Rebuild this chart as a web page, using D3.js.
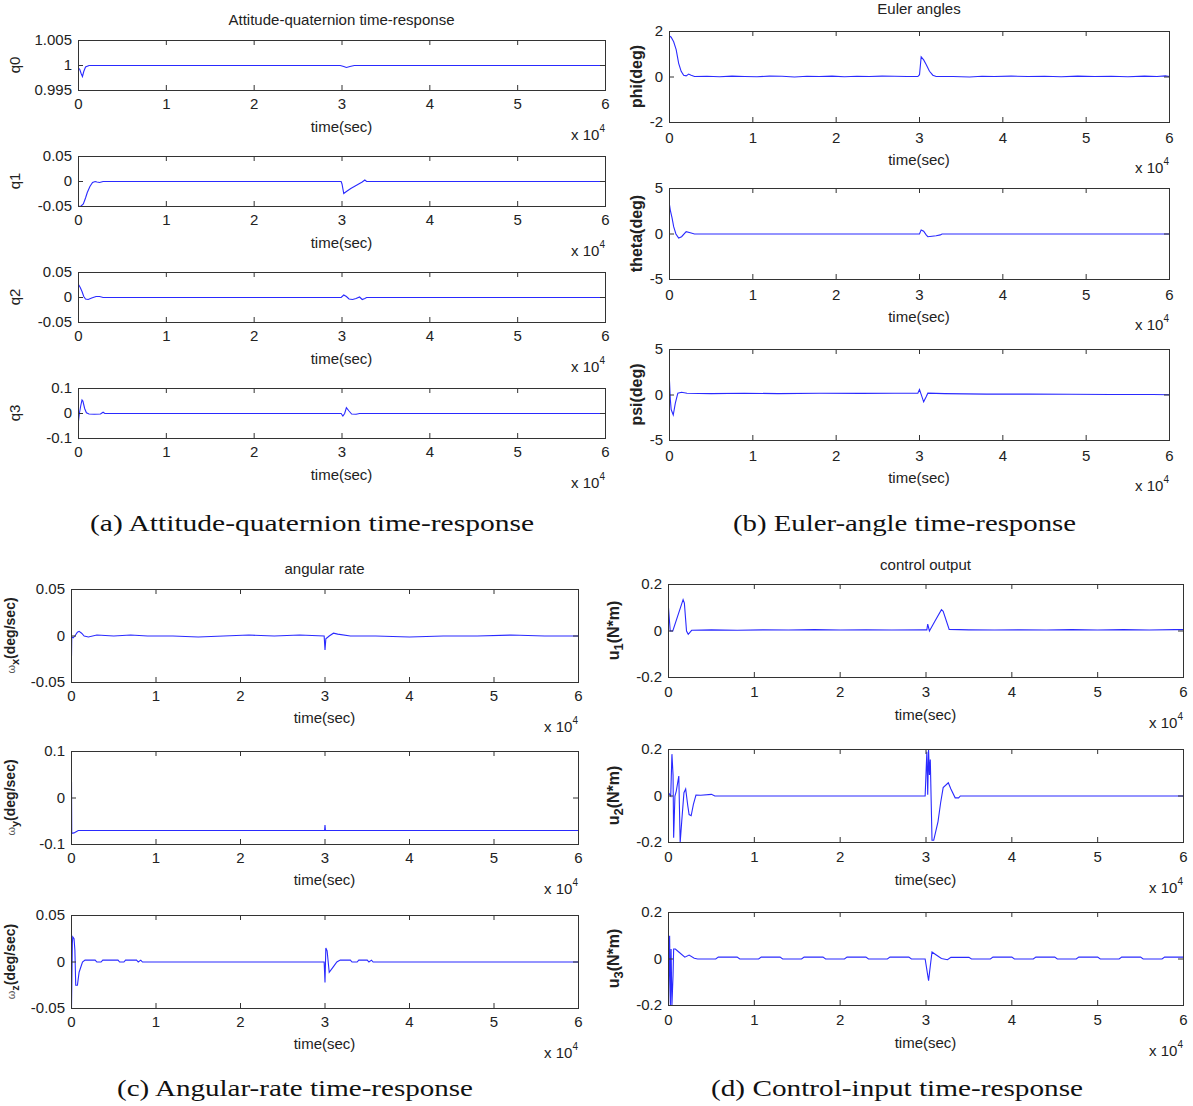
<!DOCTYPE html>
<html>
<head>
<meta charset="utf-8">
<script src="https://cdn.jsdelivr.net/npm/d3@7"></script>
<style>
  body { margin: 0; background: #fff; }
  svg { display: block; }
  text { font-family: "Liberation Sans", Arial, sans-serif; fill: #222; }
  .tick text { font-size: 15px; }
  .tick line { stroke: #333; }
  .caption { font-family: "Liberation Serif", "DejaVu Serif", serif; font-size: 24px; fill: #111; }
</style>
</head>
<body>
<main></main>
<script>
// time axis in units of 10^4 s
const xTicks = [0, 1, 2, 3, 4, 5, 6];

// (a) attitude quaternion
const q0 = [[0,0.9995],[0.015,0.9992],[0.03,0.9984],[0.045,0.9978],[0.06,0.9988],[0.08,0.9997],[0.12,1.0],[2.98,1.0],[3.02,0.9998],[3.05,0.9996],[3.09,0.9998],[3.14,1.0],[6,1.0]];
const q1 = [[0,-0.05],[0.03,-0.049],[0.055,-0.045],[0.08,-0.033],[0.1,-0.022],[0.13,-0.01],[0.16,-0.002],[0.19,0],[0.21,-0.001],[0.24,-0.002],[0.26,-0.001],[0.28,0],[2.99,0],[3.0,-0.005],[3.02,-0.024],[3.05,-0.02],[3.1,-0.014],[3.15,-0.009],[3.2,-0.004],[3.23,-0.001],[3.26,0.003],[3.28,0],[6,0]];
const q2 = [[0,0.026],[0.02,0.02],[0.04,0.012],[0.06,0.002],[0.08,-0.003],[0.11,-0.004],[0.15,-0.001],[0.2,0.002],[0.24,0.002],[0.28,0],[2.99,0],[3.02,0.005],[3.05,0.002],[3.08,-0.003],[3.12,-0.004],[3.16,-0.002],[3.2,0.001],[3.23,-0.004],[3.26,-0.002],[3.28,0],[6,0]];
const q3 = [[0,-0.03],[0.01,0.0],[0.025,0.03],[0.04,0.054],[0.05,0.05],[0.07,0.02],[0.09,0.003],[0.12,-0.002],[0.18,-0.003],[0.25,-0.002],[0.28,0.005],[0.3,0],[2.99,0],[3.01,-0.01],[3.03,0.0],[3.05,0.023],[3.08,0.01],[3.11,-0.002],[3.16,-0.003],[3.2,0],[6,0]];

// (b) Euler angles, deg
const phi = [[0,1.8],[0.02,1.75],[0.05,1.55],[0.08,1.2],[0.11,0.6],[0.14,0.25],[0.17,0.08],[0.2,0.05],[0.23,0.13],[0.26,0.08],[0.3,0.02],[0.45,0.03],[0.6,0.01],[0.75,0.04],[0.9,0.02],[1.05,0.01],[1.2,0.04],[1.35,0.03],[1.5,0.0],[1.65,0.03],[1.8,0.02],[1.95,0.04],[2.1,0.01],[2.25,0.03],[2.4,0.02],[2.55,0.04],[2.7,0.03],[2.85,0.02],[2.98,0.02],[3.0,0.1],[3.02,0.88],[3.05,0.75],[3.08,0.55],[3.12,0.25],[3.16,0.08],[3.2,0.02],[3.4,0.02],[3.6,0.0],[3.75,0.03],[3.9,0.02],[4.1,0.04],[4.3,0.02],[4.5,0.03],[4.7,0.01],[4.9,0.04],[5.1,0.02],[5.3,0.03],[5.5,0.01],[5.7,0.04],[5.85,0.02],[5.95,0.05],[6,0.02]];
const theta = [[0,3.2],[0.01,2.6],[0.03,1.8],[0.05,0.8],[0.077,0],[0.11,-0.45],[0.145,-0.3],[0.2,0.25],[0.26,0.1],[0.3,0],[3.0,0],[3.02,0.45],[3.05,0.3],[3.08,-0.1],[3.1,-0.3],[3.15,-0.25],[3.2,-0.2],[3.25,-0.1],[3.27,0],[6,0]];
const psi = [[0,1.5],[0.01,-0.5],[0.02,-1.6],[0.045,-2.2],[0.07,-0.9],[0.1,0.2],[0.145,0.3],[0.21,0.2],[0.5,0.15],[0.9,0.2],[1.3,0.15],[1.8,0.2],[2.3,0.18],[2.7,0.2],[2.98,0.2],[3.0,0.6],[3.03,-0.2],[3.05,-0.75],[3.08,-0.2],[3.1,0.2],[3.3,0.15],[3.8,0.1],[4.3,0.1],[4.8,0.08],[5.3,0.05],[5.8,0.05],[6,0.03]];

// (c) angular rate, deg/sec
const wx = [[0,-0.022],[0.003,-0.001],[0.02,-0.002],[0.04,0.0],[0.07,0.004],[0.09,0.005],[0.12,0.003],[0.15,0.0],[0.2,-0.001],[0.3,0.001],[0.5,0.0],[0.7,0.001],[0.9,0.0],[1.2,0.0],[1.5,-0.001],[1.8,0.0],[2.1,0.001],[2.4,0.0],[2.7,0.001],[2.99,0.0],[3.0,-0.015],[3.01,-0.003],[3.05,0.0],[3.1,0.003],[3.15,0.002],[3.3,0.0],[3.6,0.0],[4.0,-0.001],[4.4,0.0],[4.8,0.0],[5.2,0.001],[5.6,0.0],[6,0.0]];
const wy = [[0,0.035],[0.003,-0.076],[0.03,-0.075],[0.06,-0.072],[0.08,-0.07],[2.995,-0.07],[3.0,-0.058],[3.005,-0.07],[6,-0.07]];
const wz = [[0,-0.05],[0.01,0.02],[0.015,0.027],[0.03,0.025],[0.04,0.013],[0.05,-0.025],[0.07,-0.025],[0.09,-0.011],[0.13,0.0],[0.16,0.002],[0.28,0.002],[0.3,0.0],[0.35,0.0],[0.37,0.002],[0.55,0.002],[0.57,0.0],[0.62,0.0],[0.64,0.002],[0.77,0.002],[0.79,0.0],[0.82,0.002],[0.84,0.0],[2.99,0.0],[3.0,-0.022],[3.01,0.015],[3.025,0.012],[3.05,-0.011],[3.1,-0.005],[3.14,0.0],[3.18,0.002],[3.3,0.002],[3.32,0.0],[3.38,0.0],[3.4,0.002],[3.5,0.002],[3.52,0.0],[3.55,0.002],[3.57,0.0],[6,0.0]];

// (d) control output, N*m
const u1 = [[0,0.1],[0.02,0.0],[0.05,0.0],[0.17,0.135],[0.185,0.12],[0.21,0.0],[0.23,-0.014],[0.27,0.003],[0.5,0.005],[0.8,0.003],[1.1,0.005],[1.4,0.004],[1.7,0.006],[2.0,0.004],[2.3,0.005],[2.6,0.004],[2.99,0.005],[3.01,0.005],[3.02,0.03],[3.04,0.0],[3.1,0.04],[3.18,0.092],[3.2,0.085],[3.27,0.007],[3.5,0.005],[3.8,0.004],[4.1,0.005],[4.4,0.004],[4.7,0.006],[5.0,0.004],[5.3,0.006],[5.6,0.004],[5.9,0.006],[6,0.006]];
const u2 = [[0,0.014],[0.013,0.007],[0.026,0],[0.04,0.18],[0.053,0.09],[0.06,-0.18],[0.075,0],[0.09,0.02],[0.12,0.086],[0.136,-0.2],[0.154,-0.11],[0.18,0.014],[0.2,0.03],[0.225,-0.043],[0.24,-0.08],[0.264,-0.085],[0.29,-0.036],[0.32,0.004],[0.375,0.003],[0.5,0.007],[0.54,0],[2.99,0],[3.01,0.19],[3.02,0.005],[3.03,0.2],[3.04,0.09],[3.05,0.157],[3.07,-0.19],[3.09,-0.19],[3.14,-0.11],[3.17,-0.03],[3.2,0.036],[3.26,0.057],[3.29,0.03],[3.34,-0.008],[3.38,-0.008],[3.4,0],[6,0]];
const u3 = [[0,-0.19],[0.013,0.1],[0.022,-0.2],[0.03,0.043],[0.04,-0.2],[0.053,-0.07],[0.06,0.043],[0.08,0.043],[0.12,0.03],[0.19,0.008],[0.24,0.017],[0.3,0.003],[0.34,0],[0.55,0],[0.58,0.008],[0.8,0.008],[0.83,0],[1.05,0],[1.08,0.008],[1.3,0.008],[1.33,0],[1.55,0],[1.58,0.008],[1.8,0.008],[1.83,0],[2.05,0],[2.08,0.008],[2.3,0.008],[2.33,0],[2.55,0],[2.58,0.008],[2.8,0.008],[2.83,0],[2.99,0],[3.03,-0.093],[3.05,-0.03],[3.07,0.03],[3.12,0.017],[3.18,0.002],[3.25,-0.003],[3.29,0.007],[3.5,0.007],[3.53,0],[3.75,0],[3.78,0.008],[4.0,0.008],[4.03,0],[4.25,0],[4.28,0.008],[4.5,0.008],[4.53,0],[4.75,0],[4.78,0.008],[5.0,0.008],[5.03,0],[5.25,0],[5.28,0.008],[5.5,0.008],[5.53,0],[5.75,0],[5.78,0.008],[6,0.008]];

const width = 1193;
const height = 1106;

const svg = d3.select("main")
	.append("svg")
	.attr("width", width)
	.attr("height", height);

const fmt = d => String(+d.toFixed(4));

function subplot(c) {
	const x = d3.scaleLinear().domain([0, 6]).range([c.left, c.right]);
	const y = d3.scaleLinear().domain(c.yDomain).range([c.bottom, c.top]);
	const g = svg.append("g");

	g.append("clipPath").attr("id", c.id)
		.append("rect")
		.attr("x", c.left).attr("y", c.top - 1)
		.attr("width", c.right - c.left + 1).attr("height", c.bottom - c.top + 2);

	const line = d3.line().x(d => x(d[0])).y(d => y(d[1]));
	g.append("g")
		.attr("clip-path", `url(#${c.id})`)
		.append("path")
		.datum(c.data)
		.attr("d", line)
		.attr("transform", "translate(0.5,0.5)")
		.attr("fill", "none")
		.attr("stroke", "#2a2aff")
		.attr("stroke-width", 1.1);

	const bottomAxis = g.append("g")
		.attr("transform", `translate(0,${c.bottom})`)
		.call(d3.axisBottom(x).tickValues(xTicks).tickSizeInner(-5).tickSizeOuter(0).tickPadding(c.tickPad).tickFormat(d3.format("d")));
	const topAxis = g.append("g")
		.attr("transform", `translate(0,${c.top})`)
		.call(d3.axisTop(x).tickValues(xTicks).tickSizeInner(-5).tickSizeOuter(0).tickFormat(""));
	const leftAxis = g.append("g")
		.attr("transform", `translate(${c.left},0)`)
		.call(d3.axisLeft(y).tickValues(c.yTicks).tickSizeInner(-5).tickSizeOuter(0).tickPadding(6).tickFormat(fmt));
	const rightAxis = g.append("g")
		.attr("transform", `translate(${c.right},0)`)
		.call(d3.axisRight(y).tickValues(c.yTicks).tickSizeInner(-5).tickSizeOuter(0).tickFormat(""));
	[bottomAxis, topAxis, leftAxis, rightAxis].forEach(a => {
		a.select(".domain").remove();
		a.selectAll("text").attr("fill", "#222").style("font-family", "Liberation Sans, Arial, sans-serif");
	});

	g.append("rect")
		.attr("x", c.left + 0.5).attr("y", c.top + 0.5)
		.attr("width", c.right - c.left).attr("height", c.bottom - c.top)
		.attr("fill", "none")
		.attr("stroke", "#333")
		.attr("stroke-width", 1);

	g.append("text")
		.attr("x", (c.left + c.right) / 2)
		.attr("y", c.bottom + c.timeDy)
		.attr("text-anchor", "middle")
		.style("font-size", "15px")
		.text("time(sec)");

	const exp = g.append("text")
		.attr("x", c.right)
		.attr("y", c.bottom + c.expDy)
		.attr("text-anchor", "end")
		.style("font-size", "15px");
	exp.append("tspan").text("x 10");
	exp.append("tspan").attr("dy", -8).style("font-size", "10px").text("4");

	const lab = g.append("text")
		.attr("transform", `translate(${c.labelX},${(c.top + c.bottom) / 2}) rotate(-90)`)
		.attr("text-anchor", "middle");
	c.label(lab);
}

function plainLabel(s, bold) {
	return t => t.style("font-size", bold ? "16px" : "15px")
		.style("font-weight", bold ? "bold" : "normal")
		.text(s);
}
function subLabel(main, sub, rest, size, mainStyle) {
	return t => {
		t.style("font-size", size + "px").style("font-weight", "bold");
		const m = t.append("tspan").text(main);
		if (mainStyle) m.style("font-size", "11px").style("font-weight", "normal").attr("fill", "#555");
		t.append("tspan").attr("dy", 4).style("font-size", (size - 3) + "px").text(sub);
		t.append("tspan").attr("dy", -4).text(rest);
	};
}

// (a)
const aLeft = 78, aRight = 605;
[
	{ id: "cq0", data: q0, yDomain: [0.995, 1.005], yTicks: [0.995, 1, 1.005], top: 40, label: plainLabel("q0") },
	{ id: "cq1", data: q1, yDomain: [-0.05, 0.05], yTicks: [-0.05, 0, 0.05], top: 156, label: plainLabel("q1") },
	{ id: "cq2", data: q2, yDomain: [-0.05, 0.05], yTicks: [-0.05, 0, 0.05], top: 272, label: plainLabel("q2") },
	{ id: "cq3", data: q3, yDomain: [-0.1, 0.1], yTicks: [-0.1, 0, 0.1], top: 388, label: plainLabel("q3") },
].forEach(c => subplot(Object.assign(c, {
	left: aLeft, right: aRight, bottom: c.top + 50, labelX: 20,
	tickPad: 8, timeDy: 42, expDy: 50,
})));

// (b)
const bLeft = 669, bRight = 1169;
[
	{ id: "cphi", data: phi, yDomain: [-2, 2], yTicks: [-2, 0, 2], top: 31, label: plainLabel("phi(deg)", true) },
	{ id: "cth", data: theta, yDomain: [-5, 5], yTicks: [-5, 0, 5], top: 188, label: plainLabel("theta(deg)", true) },
	{ id: "cpsi", data: psi, yDomain: [-5, 5], yTicks: [-5, 0, 5], top: 349, label: plainLabel("psi(deg)", true) },
].forEach(c => subplot(Object.assign(c, {
	left: bLeft, right: bRight, bottom: c.top + 91, labelX: 642,
	tickPad: 10, timeDy: 43, expDy: 51,
})));

// (c)
const cLeft = 71, cRight = 578;
[
	{ id: "cwx", data: wx, yDomain: [-0.05, 0.05], yTicks: [-0.05, 0, 0.05], top: 589, label: subLabel("\u03c9", "x", "(deg/sec)", 14, true) },
	{ id: "cwy", data: wy, yDomain: [-0.1, 0.1], yTicks: [-0.1, 0, 0.1], top: 751, label: subLabel("\u03c9", "y", "(deg/sec)", 14, true) },
	{ id: "cwz", data: wz, yDomain: [-0.05, 0.05], yTicks: [-0.05, 0, 0.05], top: 915, label: subLabel("\u03c9", "z", "(deg/sec)", 14, true) },
].forEach(c => subplot(Object.assign(c, {
	left: cLeft, right: cRight, bottom: c.top + 93, labelX: 15,
	tickPad: 8, timeDy: 41, expDy: 50,
})));

// (d)
const dLeft = 668, dRight = 1183;
[
	{ id: "cu1", data: u1, yDomain: [-0.2, 0.2], yTicks: [-0.2, 0, 0.2], top: 584, label: subLabel("u", "1", "(N*m)", 16) },
	{ id: "cu2", data: u2, yDomain: [-0.2, 0.2], yTicks: [-0.2, 0, 0.2], top: 749, label: subLabel("u", "2", "(N*m)", 16) },
	{ id: "cu3", data: u3, yDomain: [-0.2, 0.2], yTicks: [-0.2, 0, 0.2], top: 912, label: subLabel("u", "3", "(N*m)", 16) },
].forEach(c => subplot(Object.assign(c, {
	left: dLeft, right: dRight, bottom: c.top + 93, labelX: 619,
	tickPad: 9, timeDy: 43, expDy: 51,
})));

// figure titles
const titles = [
	["Attitude-quaternion time-response", (aLeft + aRight) / 2, 25],
	["Euler angles", (bLeft + bRight) / 2, 14],
	["angular rate", (cLeft + cRight) / 2, 574],
	["control output", (dLeft + dRight) / 2, 570],
];
svg.selectAll(".ptitle")
	.data(titles)
	.enter()
	.append("text")
	.attr("class", "ptitle")
	.attr("x", d => d[1])
	.attr("y", d => d[2])
	.attr("text-anchor", "middle")
	.style("font-size", "15px")
	.text(d => d[0]);

// sub-figure captions
const captions = [
	["(a)  Attitude-quaternion time-response", 90, 531, 444],
	["(b)  Euler-angle time-response", 733, 531, 343],
	["(c)  Angular-rate time-response", 117, 1096, 356],
	["(d)  Control-input time-response", 711, 1096, 372],
];
svg.selectAll(".caption")
	.data(captions)
	.enter()
	.append("text")
	.attr("class", "caption")
	.attr("x", d => d[1])
	.attr("y", d => d[2])
	.attr("textLength", d => d[3])
	.attr("lengthAdjust", "spacingAndGlyphs")
	.text(d => d[0]);
</script>
</body>
</html>
